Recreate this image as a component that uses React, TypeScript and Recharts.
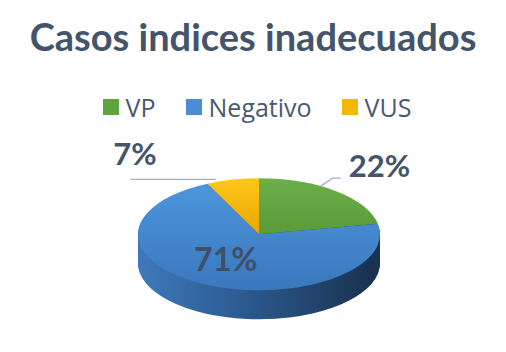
import React from "react";
import { PieChart, Pie, Cell } from "recharts";

const categories = ["VP", "Negativo", "VUS"];
const values = [22, 71, 7];

const TOP_COLORS = [
  ["#6cb04a", "#5a9a38"],
  ["#4c95dc", "#3a78bd"],
  ["#ffc71a", "#eaa600"],
];
const LEGEND_COLORS = ["#5ea33d", "#4a8fd6", "#f5b800"];
const TEXT = "#44546a";

const W = 506;
const H = 352;
const CX = 254;
const CY = 232;
const RX = 121;
const RY = 56;
const K = RY / RX;
const DEPTH = 29;

const data = categories.map((name, i) => ({ name, value: values[i] }));

// side layers of the 3D disc, bottom first
const layers: number[] = [];
for (let d = DEPTH; d > 0; d -= 1) layers.push(d);

function ellipsePoint(angle: number, r: number) {
  const rad = (angle * Math.PI) / 180;
  return { x: CX + RX * r * Math.cos(rad), y: CY - RY * r * Math.sin(rad) };
}

function renderLabel(props: any) {
  const { midAngle, percent, index } = props;
  const txt = `${Math.round(percent * 100)}%`;
  if (index === 1) {
    const p = ellipsePoint(midAngle, 0.55);
    return (
      <text x={p.x + 2} y={p.y + 12} textAnchor="middle" fill="#3f4f66" fontSize={32} fontWeight={700}>
        {txt}
      </text>
    );
  }
  if (index === 0) {
    const p = ellipsePoint(midAngle, 1.28);
    return (
      <text x={p.x - 4} y={p.y} textAnchor="start" fill={TEXT} fontSize={31} fontWeight={700}>
        {txt}
      </text>
    );
  }
  const p = ellipsePoint(midAngle, 1);
  return (
    <text x={p.x - 71} y={p.y - 12} textAnchor="end" fill={TEXT} fontSize={31} fontWeight={700}>
      {txt}
    </text>
  );
}

function renderLabelLine(props: any) {
  const { midAngle, index } = props;
  if (index === 1) return <g />;
  const e = ellipsePoint(midAngle, 1);
  if (index === 0) {
    const m = ellipsePoint(midAngle, 1.2);
    return (
      <polyline
        points={`${e.x - 10},${e.y - 3} ${m.x - 14},${m.y - 2} ${m.x - 6},${m.y - 2}`}
        fill="none"
        stroke="#a6b1c0"
        strokeWidth={1.3}
      />
    );
  }
  return (
    <polyline
      points={`${e.x - 12},${e.y + 2} ${e.x - 97},${e.y + 2}`}
      fill="none"
      stroke="#a6b1c0"
      strokeWidth={1.3}
    />
  );
}

export default function App() {
  return (
    <div
      style={{
        position: "relative",
        width: W,
        height: H,
        margin: -8,
        background: "#ffffff",
        overflow: "hidden",
        fontFamily: "Lato, 'Open Sans', sans-serif",
      }}
    >
      <div
        style={{
          position: "absolute",
          top: 14,
          left: 0,
          width: W,
          textAlign: "center",
          fontSize: 38,
          fontWeight: 700,
          color: TEXT,
          lineHeight: "44px",
        }}
      >
        Casos indices inadecuados
      </div>

      <div
        style={{
          position: "absolute",
          top: 90,
          left: 4,
          width: W,
          display: "flex",
          justifyContent: "center",
          alignItems: "center",
          gap: 30,
          fontSize: 25,
          fontFamily: "'Open Sans', sans-serif",
          color: "#4a5a72",
        }}
      >
        {categories.map((c, i) => (
          <div key={c} style={{ display: "flex", alignItems: "center", gap: 7 }}>
            <span
              style={{
                display: "inline-block",
                width: 16,
                height: 16,
                background: LEGEND_COLORS[i],
              }}
            />
            <span>{c}</span>
          </div>
        ))}
      </div>

      {/* disc, squashed into an ellipse */}
      <div
        style={{
          position: "absolute",
          top: 0,
          left: 0,
          width: W,
          height: H / K,
          transform: `scaleY(${K})`,
          transformOrigin: "0 0",
        }}
      >
        <PieChart width={W} height={H / K}>
          <defs>
            <linearGradient id="side" gradientUnits="userSpaceOnUse" x1={CX - RX} y1="0" x2={CX + RX} y2="0">
              <stop offset="0%" stopColor="#3f7abd" />
              <stop offset="45%" stopColor="#2c5b90" />
              <stop offset="100%" stopColor="#1a3150" />
            </linearGradient>
            {TOP_COLORS.map((c, i) => (
              <linearGradient key={i} id={`top${i}`} x1="0" y1="0" x2="0" y2="1">
                <stop offset="0%" stopColor={c[0]} />
                <stop offset="100%" stopColor={c[1]} />
              </linearGradient>
            ))}
          </defs>
          {layers.map((d) => (
            <Pie
              key={d}
              data={data}
              dataKey="value"
              cx={CX}
              cy={(CY + d) / K}
              outerRadius={RX}
              startAngle={90}
              endAngle={-270}
              stroke="none"
              isAnimationActive={false}
            >
              {data.map((_, i) => (
                <Cell key={i} fill="url(#side)" />
              ))}
            </Pie>
          ))}
          <Pie
            data={data}
            dataKey="value"
            cx={CX}
            cy={CY / K}
            outerRadius={RX}
            startAngle={90}
            endAngle={-270}
            stroke="none"
            isAnimationActive={false}
          >
            {data.map((_, i) => (
              <Cell key={i} fill={`url(#top${i})`} />
            ))}
          </Pie>
        </PieChart>
      </div>

      {/* labels, drawn unsquashed */}
      <div style={{ position: "absolute", top: 0, left: 0 }}>
        <PieChart width={W} height={H} style={{ fontFamily: "Lato, 'Open Sans', sans-serif" }}>
          <Pie
            data={data}
            dataKey="value"
            cx={CX}
            cy={CY}
            outerRadius={RX}
            startAngle={90}
            endAngle={-270}
            fill="none"
            stroke="none"
            label={renderLabel}
            labelLine={renderLabelLine}
            isAnimationActive={false}
          />
        </PieChart>
      </div>
    </div>
  );
}
